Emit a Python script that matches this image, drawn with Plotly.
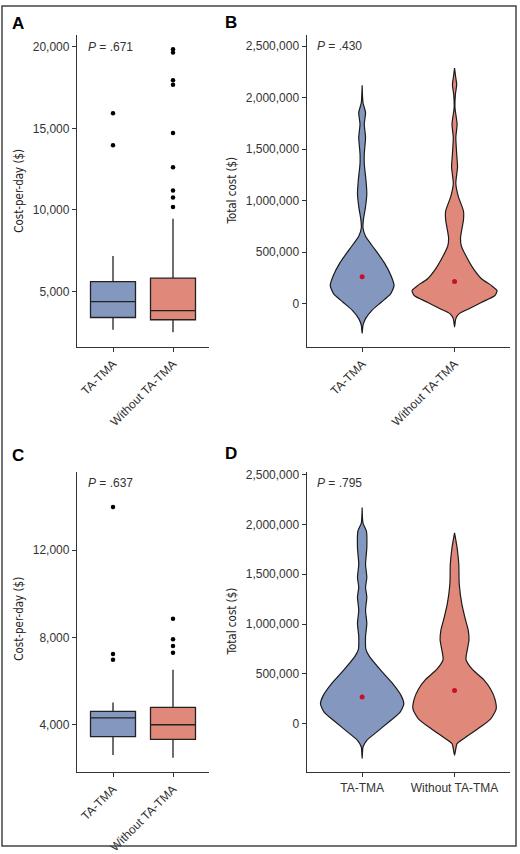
import plotly.graph_objects as go

groups = ["TA-TMA", "Without TA-TMA"]
blue = "#8497BF"
salmon = "#E0887A"

# A: cost-per-day, box stats
a_q1 = [3404, 3265]
a_med = [4375, 3829]
a_q3 = [5607, 5813]
a_lo = [2658, 2494]
a_hi = [7166, 9454]
a_out_ta = [15922, 13962]
a_out_wo = [19848, 19648, 17949, 17664, 14709, 12609, 11189, 10764, 10182]

# C: cost-per-day, second cohort
c_q1 = [3456, 3334]
c_med = [4317, 4000]
c_q3 = [4616, 4797]
c_lo = [2609, 2487]
c_hi = [5024, 6519]
c_out_ta = [13980, 7244, 6985]
c_out_wo = [8861, 7923, 7606, 7303]

# B / D: violin outlines, total cost in thousands and relative density
b_ta_k = [-288, -208, -144, -64, 15, 96, 176, 272, 399, 528, 655, 735, 816, 943, 1071, 1199, 1359, 1455, 1615, 1743, 1855, 1951, 2121]
b_ta_d = [0, .02, .08, .23, .45, .67, .75, .68, .52, .30, .08, .02, .03, .08, .11, .09, .05, .05, .08, .05, .08, .02, 0]
b_wo_k = [-224, -144, -96, -48, 15, 80, 128, 176, 240, 336, 464, 560, 640, 720, 816, 900, 1039, 1167, 1327, 1455, 1615, 1743, 1903, 2031, 2127, 2191, 2287]
b_wo_d = [0, .03, .11, .34, .64, .95, 1.0, .87, .64, .45, .27, .16, .14, .17, .21, .21, .09, .03, .07, .05, .03, .06, .01, .02, .05, .03, 0]
b_mean = [262000, 217000]

d_ta_k = [-347, -232, -165, -83, 16, 115, 198, 280, 412, 545, 676, 743, 874, 1006, 1139, 1270, 1369, 1468, 1600, 1765, 1931, 2013, 2168]
d_ta_d = [0, .02, .11, .34, .62, .89, .98, .92, .70, .42, .17, .09, .08, .11, .08, .11, .08, .11, .08, .11, .10, .02, 0]
d_wo_k = [-314, -198, -132, -50, 50, 149, 248, 347, 446, 545, 644, 743, 842, 941, 1072, 1204, 1402, 1600, 1765, 1914]
d_wo_d = [0, .06, .27, .55, .85, .98, .95, .85, .68, .42, .27, .30, .34, .32, .24, .17, .11, .10, .06, 0]
d_mean = [270000, 333000]

p_vals = ["P = .671", "P = .430", "P = .637", "P = .795"]

W, H = 520, 854
tick_font = dict(family="Liberation Sans, Arial, sans-serif", size=12, color="#333333")
narrow = "Liberation Sans Narrow, DejaVu Sans Condensed, Arial Narrow, sans-serif"
VW = 0.46

fig = go.Figure()


def add_box(xa, ya, q1, med, q3, lo, hi, out_ta, out_wo):
    for i, col in enumerate([blue, salmon]):
        fig.add_trace(go.Box(x=[i + 1], q1=[q1[i]], median=[med[i]], q3=[q3[i]],
                             lowerfence=[lo[i]], upperfence=[hi[i]], width=0.75,
                             fillcolor=col, line=dict(color="#222222", width=1.3),
                             whiskerwidth=0, boxpoints=False, xaxis=xa, yaxis=ya))
    fig.add_trace(go.Scatter(x=[1] * len(out_ta) + [2] * len(out_wo), y=out_ta + out_wo,
                             mode="markers", marker=dict(color="black", size=4.5),
                             xaxis=xa, yaxis=ya))


def add_violin(xa, ya, pos, vals_k, dens, col, mean):
    vals = [v * 1000 for v in vals_k]
    xs = [pos + d * VW for d in dens] + [pos - d * VW for d in reversed(dens)]
    ys = vals + vals[::-1]
    fig.add_trace(go.Scatter(x=xs, y=ys, fill="toself", fillcolor=col, mode="lines",
                             line=dict(color="#1a1a1a", width=1.2, shape="spline", smoothing=0.6),
                             xaxis=xa, yaxis=ya, hoverinfo="skip"))
    fig.add_trace(go.Scatter(x=[pos], y=[mean], mode="markers",
                             marker=dict(color="#C8102E", size=5), xaxis=xa, yaxis=ya))


add_box("x", "y", a_q1, a_med, a_q3, a_lo, a_hi, a_out_ta, a_out_wo)
add_violin("x2", "y2", 1, b_ta_k, b_ta_d, blue, b_mean[0])
add_violin("x2", "y2", 2, b_wo_k, b_wo_d, salmon, b_mean[1])
add_box("x3", "y3", c_q1, c_med, c_q3, c_lo, c_hi, c_out_ta, c_out_wo)
add_violin("x4", "y4", 1, d_ta_k, d_ta_d, blue, d_mean[0])
add_violin("x4", "y4", 2, d_wo_k, d_wo_d, salmon, d_mean[1])

left = [77 / W, 209 / W]
right = [306.7 / W, 510 / W]
top = [1 - 347 / H, 1 - 31 / H]
bot = [1 - 777.3 / H, 1 - 473.3 / H]

ax_common = dict(showline=True, linecolor="#333333", linewidth=1.3, ticks="outside",
                 ticklen=4, tickwidth=1.2, tickcolor="#333333", showgrid=False,
                 zeroline=False, tickfont=tick_font)


def xax(dom, anchor, angle):
    return dict(ax_common, domain=dom, anchor=anchor, range=[0.4, 2.6],
                tickvals=[1, 2], ticktext=groups, tickangle=angle)


def yax(dom, anchor, rng, tv):
    return dict(ax_common, domain=dom, anchor=anchor, range=rng, tickvals=tv,
                tickformat=",")


money = [0, 500000, 1000000, 1500000, 2000000, 2500000]
fig.update_layout(
    xaxis=xax(left, "y", -45), yaxis=yax(top, "x", [1600, 20740], [5000, 10000, 15000, 20000]),
    xaxis2=xax(right, "y2", -45), yaxis2=yax(top, "x2", [-419000, 2612000], money),
    xaxis3=xax(left, "y3", -45), yaxis3=yax(bot, "x3", [1826, 15597], [4000, 8000, 12000]),
    xaxis4=xax(right, "y4", 0), yaxis4=yax(bot, "x4", [-485000, 2527000], money),
)

ann = []
for lab, x, y in [("A", 10, 20), ("B", 223, 19), ("C", 10, 457), ("D", 223, 455)]:
    ann.append(dict(text="<b>%s</b>" % lab, x=x / W, y=1 - y / H, xref="paper", yref="paper",
                    xanchor="left", yanchor="middle", showarrow=False,
                    font=dict(family="Liberation Sans, Arial", size=17, color="black")))
for txt, x, y in [("Cost-per-day ($)", 19, 189), ("Total cost ($)", 231.7, 189),
                  ("Cost-per-day ($)", 19, 622), ("Total cost ($)", 231.7, 625)]:
    ann.append(dict(text=txt, x=x / W, y=1 - y / H, xref="paper", yref="paper", textangle=-90,
                    showarrow=False, xanchor="center", yanchor="middle",
                    font=dict(family=narrow, size=11.5, color="#222222")))
for txt, x, y in zip(p_vals, [86, 315, 86, 315], [43.5, 42.7, 485, 484.3]):
    ann.append(dict(text="<i>P</i>" + txt[1:], x=x / W, y=1 - y / H, xref="paper", yref="paper",
                    xanchor="left", yanchor="middle", showarrow=False, font=tick_font))

fig.update_layout(
    annotations=ann,
    shapes=[dict(type="rect", xref="paper", yref="paper", x0=2 / W, x1=516 / W,
                 y0=1 - 852 / H, y1=1 - 2 / H, line=dict(color="#444444", width=1.5))],
    width=W, height=H, margin=dict(l=0, r=0, t=0, b=0),
    paper_bgcolor="white", plot_bgcolor="white", showlegend=False,
)
fig.write_html("out.html", config={"displayModeBar": False},
               post_script="document.body.style.margin='0px';document.body.style.overflow='hidden';")
